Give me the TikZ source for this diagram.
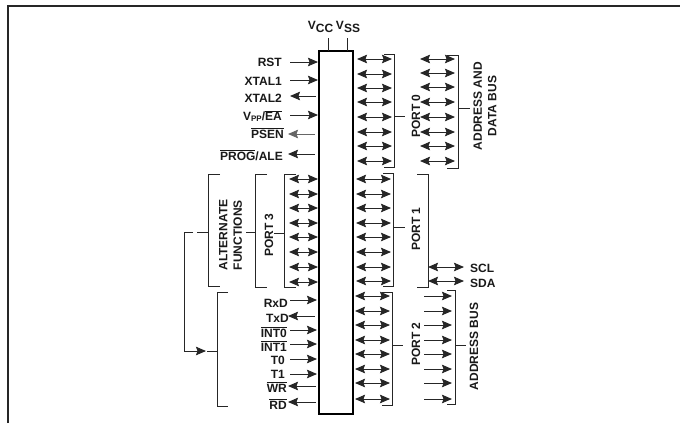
\documentclass[tikz,border=0pt]{standalone}
\usepackage{fontspec}
\setmainfont{Liberation Sans}
\usetikzlibrary{arrows.meta}
\tikzset{
  x=1pt,y=-1pt,
  wire/.style={line width=0.9pt,black!85},
  ar/.style={wire,-{Stealth[length=10pt,width=8.5pt,inset=1.5pt]}},
  bi/.style={wire,{Stealth[length=10pt,width=8.5pt,inset=1.5pt]}-{Stealth[length=10pt,width=8.5pt,inset=1.5pt]}},
  brk/.style={line width=0.9pt,black!85},
  lbl/.style={inner sep=0pt,font=\bfseries\fontsize{12}{14.5}\selectfont,black!90},
  lbll/.style={lbl,anchor=east},
  vlbl/.style={lbl,rotate=90,align=center},
}
\newcommand{\ol}[1]{$\overline{\hbox{#1}}$}
\begin{document}
\begin{tikzpicture}
\useasboundingbox (0,0) rectangle (680,423);
\draw[line width=1.4pt,black!85] (8,423) -- (8,6) -- (680,6);
% chip
\node[draw,line width=1.7pt,minimum width=34pt,minimum height=363pt,inner sep=0pt] (chip) at (336,232.5) {};
% supply
\node[lbl] (vcc) at (320.5,27) {V\raisebox{-2.5pt}{CC}};
\node[lbl] (vss) at (348,27) {V\raisebox{-2.5pt}{SS}};
\coordinate (vcct) at (328,38); \coordinate (vssb) at (347,38);
\draw[wire] (vcct) -- (328,51);
\draw[wire] (vssb) -- (347,51);
% left top signals
\node[lbll] (rst) at (282,62) {RST};
\node[lbll] (xt1) at (282,81) {XTAL1};
\node[lbll] (xt2) at (282,98) {XTAL2};
\node[lbll] (vpp) at (282,116) {V\raisebox{-1.5pt}{\fontsize{8}{9}\selectfont PP}/\ol{EA}};
\node[lbll] (psen) at (284,133) {\ol{PSEN}};
\node[lbll] (prog) at (283,155) {\ol{PROG}/ALE};
\draw[ar] (290,62) -- (318,62);
\draw[ar] (290,80) -- (318,80);
\draw[ar] (316,96) -- (290,96);
\draw[ar] (290,115) -- (318,115);
\draw[ar,black!60] (315,134) -- (288,134);
\draw[ar] (315,154) -- (288,154);
% port 0 arrows
\foreach \y in {59,74,88,102,117,132,146,161}{\draw[bi] (357,\y) -- (392,\y);}
\foreach \y in {59,73,87,102,117,132,146,161}{\draw[bi] (420,\y) -- (455,\y);}
\draw[brk] (384,54) -- (394,54) -- (394,167) -- (384,167);
\draw[brk] (394,116) -- (405,116);
\node[vlbl] (p0) at (416,116) {PORT 0};
\draw[brk] (447,55) -- (458,55) -- (458,168) -- (447,168);
\draw[brk] (458,108) -- (470,108);
\node[vlbl] (adb) at (485,106) {ADDRESS AND\\DATA BUS};
% port 1
\foreach \y in {179,194,208,223,237,252,267,281}{\draw[bi] (356,\y) -- (391,\y);}
\draw[brk] (383,173) -- (393,173) -- (393,286) -- (383,286);
\draw[brk] (393,227) -- (405,227);
\node[vlbl] (p1) at (416,229) {PORT 1};
\draw[brk] (417,174) -- (428,174) -- (428,287) -- (417,287);
\draw[bi] (428,267) -- (464,267);
\draw[bi] (428,281) -- (464,281);
\node[lbl,anchor=west] (scl) at (470,268) {SCL};
\node[lbl,anchor=west] (sda) at (470,283) {SDA};
% port 3
\foreach \y in {179,194,208,223,237,252,267,282}{\draw[bi] (289,\y) -- (318,\y);}
\draw[brk] (296,174) -- (284,174) -- (284,287) -- (296,287);
\draw[brk] (274,233) -- (284,233);
\draw[brk] (267,174) -- (255,174) -- (255,287) -- (267,287);
\draw[brk] (246,232) -- (255,232);
\node[vlbl] (p3) at (269,235) {PORT 3};
\draw[brk] (220,174) -- (208,174) -- (208,286) -- (220,286);
\draw[brk] (197,232) -- (208,232);
\node[vlbl] (af) at (230.5,235) {ALTERNATE\\FUNCTIONS};
% alt bracket
\draw[brk] (193,232) -- (184,232) -- (184,351);
\draw[ar] (184,351) -- (206,351);
\draw[brk] (207,351) -- (217,351);
\draw[brk] (228,292) -- (217,292) -- (217,406) -- (228,406);
% port 3 signals
\node[lbll] (rxd) at (288,303) {RxD};
\node[lbll] (txd) at (289,318) {TxD};
\node[lbll] (int0) at (287,332) {\ol{INT0}};
\node[lbll] (int1) at (287,346) {\ol{INT1}};
\node[lbll] (t0) at (285,360) {T0};
\node[lbll] (t1) at (285,374) {T1};
\node[lbll] (wr) at (287,387) {\ol{WR}};
\node[lbll] (rd) at (287,404) {\ol{RD}};
\draw[ar] (290,300) -- (317,300);
\draw[ar] (315,316) -- (288,316);
\draw[ar] (290,330) -- (317,330);
\draw[ar] (290,344) -- (317,344);
\draw[ar] (290,359) -- (317,359);
\draw[ar] (290,374) -- (317,374);
\draw[ar] (316,386) -- (288,386);
\draw[ar] (316,402) -- (288,402);
% port 2
\foreach \y in {296,311,325,340,354,369,383,399}{\draw[bi] (355,\y) -- (390,\y);}
\draw[brk] (382,292) -- (392,292) -- (392,405) -- (382,405);
\draw[brk] (392,345) -- (403,345);
\node[vlbl] (p2) at (416,344) {PORT 2};
\foreach \y in {296,311,325,340,354,369,383,399}{\draw[ar] (424,\y) -- (452,\y);}
\draw[brk] (447,290) -- (455,290) -- (455,404) -- (447,404);
\draw[brk] (455,345) -- (466,345);
\node[vlbl] (ab) at (474,346.5) {ADDRESS BUS};
\end{tikzpicture}
\end{document}
